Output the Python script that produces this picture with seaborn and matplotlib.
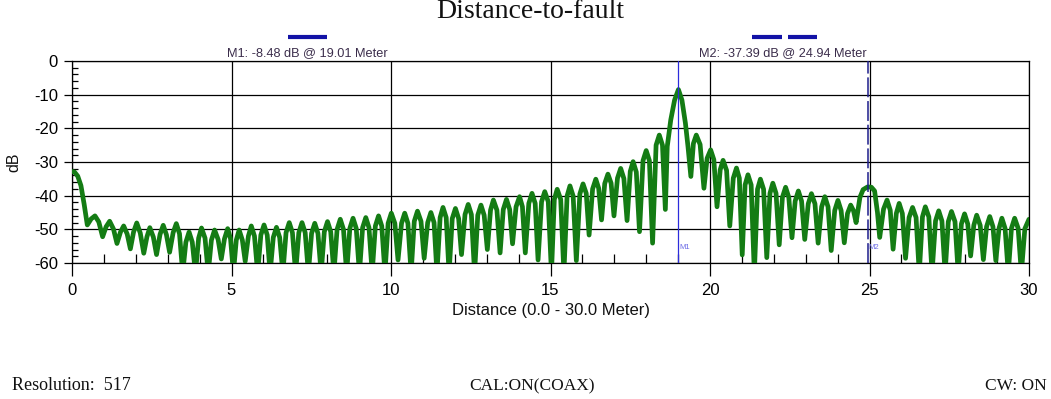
import matplotlib
matplotlib.use("Agg")
import matplotlib.pyplot as plt
from matplotlib.lines import Line2D
from matplotlib.ticker import MultipleLocator
import pandas as pd
import seaborn as sns

# ---------------- data ----------------
trace_m = [
    0.00, 0.08, 0.18, 0.28, 0.38,
    0.48, 0.60, 0.72, 0.84, 0.96, 1.07, 1.18, 1.30,
    1.41, 1.52, 1.62, 1.73, 1.83, 1.93, 2.03, 2.14,
    2.25, 2.35, 2.44, 2.55, 2.65, 2.76, 2.86, 2.96,
    3.06, 3.17, 3.27, 3.37, 3.47, 3.57, 3.67, 3.77,
    3.87, 3.97, 4.06, 4.17, 4.27, 4.37, 4.47, 4.58,
    4.68, 4.78, 4.88, 4.97, 5.06, 5.15, 5.24, 5.34,
    5.43, 5.53, 5.62, 5.72, 5.82, 5.92, 6.02, 6.12,
    6.21, 6.31, 6.41, 6.51, 6.61, 6.71, 6.81, 6.91,
    7.01, 7.11, 7.21, 7.31, 7.41, 7.51, 7.61, 7.71,
    7.81, 7.91, 8.01, 8.11, 8.21, 8.31, 8.41, 8.51,
    8.61, 8.71, 8.81, 8.91, 9.01, 9.11, 9.21, 9.31,
    9.41, 9.51, 9.61, 9.71, 9.81, 9.91, 10.01, 10.12,
    10.22, 10.33, 10.43, 10.53, 10.63, 10.73, 10.83, 10.94,
    11.04, 11.15, 11.25, 11.35, 11.44, 11.54, 11.63, 11.73,
    11.82, 11.92, 12.02, 12.12, 12.21, 12.32, 12.42, 12.52,
    12.62, 12.72, 12.82, 12.92, 13.02, 13.12, 13.21, 13.32,
    13.42, 13.52, 13.62, 13.72, 13.81, 13.92, 14.03, 14.12,
    14.21, 14.32, 14.42, 14.52, 14.61, 14.72, 14.82, 14.93,
    15.03, 15.12, 15.21, 15.32, 15.42, 15.52, 15.61, 15.71,
    15.81, 15.92, 16.02, 16.12, 16.21, 16.32, 16.42, 16.51,
    16.60, 16.70, 16.80, 16.90, 16.99, 17.10, 17.20, 17.30,
    17.40, 17.50, 17.59, 17.69, 17.79, 17.90, 18.00, 18.10,
    18.20, 18.31, 18.41, 18.51,
    18.60, 18.66, 18.77, 18.89, 19.01, 19.12, 19.23, 19.31,
    19.40, 19.48, 19.57, 19.69, 19.81, 19.91, 20.02, 20.12,
    20.22, 20.32, 20.41, 20.52, 20.62, 20.73, 20.83, 20.92,
    21.01, 21.10, 21.19, 21.29, 21.39, 21.49, 21.58, 21.68,
    21.78, 21.88, 21.97, 22.07, 22.17, 22.27, 22.37, 22.47,
    22.57, 22.67, 22.77, 22.87, 22.97, 23.08, 23.18, 23.29,
    23.39, 23.50, 23.60, 23.70, 23.80, 23.91, 24.01, 24.11,
    24.21, 24.31, 24.41, 24.50,
    24.58, 24.70, 24.80, 24.94, 25.06, 25.16, 25.25,
    25.32, 25.44, 25.55, 25.65, 25.74, 25.84, 25.93, 26.03,
    26.13, 26.24, 26.35, 26.46, 26.56, 26.66, 26.75, 26.86,
    26.96, 27.07, 27.17, 27.27, 27.37, 27.47, 27.57, 27.68,
    27.78, 27.88, 27.98, 28.08, 28.17, 28.27, 28.36, 28.47,
    28.57, 28.67, 28.77, 28.87, 28.96, 29.06, 29.15, 29.25,
    29.35, 29.45, 29.55, 29.66, 29.76, 29.87, 30.00,
]
trace_db = [
    -32.8, -33.0, -34.2, -37.0, -42.5,
    -48.7, -46.9, -46.0, -47.8, -52.2, -49.2, -47.6, -49.9,
    -54.2, -50.8, -49.0, -51.4, -55.8, -50.8, -48.1, -51.1,
    -57.1, -52.2, -49.5, -52.3, -57.5, -51.5, -48.8, -51.6,
    -56.8, -51.0, -48.3, -51.3, -63.0, -53.8, -50.8, -53.8,
    -63.0, -52.6, -49.6, -52.6, -63.0, -53.2, -50.2, -53.0,
    -58.8, -52.8, -49.8, -52.8, -63.0, -53.2, -50.2, -53.2,
    -59.5, -52.0, -49.0, -52.0, -63.0, -51.7, -48.7, -51.7,
    -63.0, -52.4, -49.4, -52.4, -63.0, -51.0, -48.0, -51.0,
    -63.0, -51.0, -48.0, -51.0, -63.0, -51.2, -48.2, -51.2,
    -63.0, -50.7, -47.7, -50.7, -63.0, -50.0, -47.0, -50.0,
    -63.0, -49.7, -46.7, -49.7, -63.0, -49.5, -46.5, -49.5,
    -63.0, -49.0, -46.0, -49.0, -63.0, -48.2, -45.2, -48.2,
    -59.1, -48.2, -45.2, -48.2, -63.0, -47.6, -44.6, -47.6,
    -58.6, -48.0, -45.0, -48.0, -63.0, -46.5, -43.5, -46.5,
    -63.0, -46.8, -43.8, -46.8, -57.5, -45.6, -42.6, -45.6,
    -63.0, -45.8, -42.8, -45.8, -56.0, -44.3, -41.3, -44.3,
    -57.0, -44.1, -41.1, -44.1, -54.3, -43.3, -40.3, -43.3,
    -57.0, -42.3, -39.3, -42.3, -59.1, -41.8, -38.8, -41.8,
    -63.0, -41.1, -38.1, -41.1, -63.0, -40.1, -37.1, -40.1,
    -59.3, -39.5, -36.5, -39.3, -51.7, -38.0, -35.1, -37.8,
    -47.2, -36.4, -33.6, -36.3, -46.0, -34.8, -31.9, -34.9,
    -47.4, -32.8, -29.9, -33.0, -50.7, -29.6, -26.6, -29.6,
    -54.1, -25.0, -22.0, -25.0,
    -44.1, -25.4, -17.5, -11.6, -8.48, -11.6, -18.5, -25.4,
    -34.3, -24.5, -22.0, -24.8, -37.8, -28.9, -26.4, -29.3,
    -43.3, -32.3, -29.5, -32.5, -49.0, -34.8, -31.8, -34.8,
    -57.6, -36.8, -33.8, -36.8, -63.0, -38.1, -35.1, -38.1,
    -58.4, -39.3, -36.3, -39.3, -54.6, -40.5, -37.5, -40.5,
    -52.5, -41.6, -38.6, -41.6, -53.0, -42.4, -39.4, -42.4,
    -54.1, -43.3, -40.3, -43.3, -56.3, -44.4, -41.4, -44.4,
    -54.0, -45.3, -42.8, -44.5,
    -48.0, -40.5, -38.2, -37.4, -37.5, -38.6, -45.0,
    -52.4, -44.0, -41.3, -44.3, -55.9, -45.3, -42.3, -45.3,
    -58.6, -46.5, -43.5, -46.5, -63.0, -46.3, -43.3, -46.3,
    -63.0, -47.5, -44.5, -47.5, -63.0, -47.7, -44.7, -47.7,
    -63.0, -48.4, -45.4, -48.4, -57.9, -48.8, -45.8, -48.8,
    -59.0, -49.2, -46.2, -49.2, -59.3, -49.7, -46.7, -49.7,
    -63.0, -49.7, -46.7, -49.7, -63.0, -49.8, -47.0,
]
assert len(trace_m) == len(trace_db)

marker_names = ["M1", "M2"]
marker_m = [19.01, 24.94]
marker_db = [-8.48, -37.39]

x_ticks = [0, 5, 10, 15, 20, 25, 30]
y_ticks = [0, -10, -20, -30, -40, -50, -60]

title_text = "Distance-to-fault"
x_label = "Distance (0.0 - 30.0 Meter)"
y_label = "dB"
footer_left = "Resolution:  517"
footer_mid = "CAL:ON(COAX)"
footer_right = "CW: ON"

# ---------------- style ----------------
sns.set_style("white")
plt.rcParams['font.family'] = ['Liberation Sans', 'DejaVu Sans']
SERIF = ['Liberation Serif', 'DejaVu Serif']

GREEN = '#147c14'
W, H = 1051, 399
fig = plt.figure(figsize=(W / 100, H / 100), dpi=100)
fig.patch.set_facecolor('white')
ax = fig.add_axes([72 / W, 1 - 263 / H, (1029 - 72) / W, (263 - 61) / H])

df = pd.DataFrame({"distance": trace_m, "db": trace_db})
sns.lineplot(data=df, x="distance", y="db", ax=ax, color=GREEN, linewidth=3.4,
             sort=False, estimator=None, zorder=3)

ax.set_xlim(0, 30)
ax.set_ylim(-60, 0)
ax.set_xticks(x_ticks)
ax.set_xticklabels([str(t) for t in x_ticks])
ax.set_yticks(y_ticks)
ax.set_yticklabels([str(t) for t in y_ticks])
ax.xaxis.set_minor_locator(MultipleLocator(1))
ax.yaxis.set_minor_locator(MultipleLocator(2))
ax.set_axisbelow(True)
ax.grid(True, which='major', color='black', linewidth=0.9)
ax.grid(False, which='minor')
ax.tick_params(axis='x', which='major', direction='out', length=9.5, width=0.9,
               labelsize=12, pad=5, colors='black', bottom=True, top=False)
ax.tick_params(axis='x', which='minor', direction='in', length=6.5, width=0.9,
               bottom=True, top=False, colors='black')
ax.tick_params(axis='y', which='major', direction='out', length=6, width=0.9,
               labelsize=12, pad=4, colors='black', left=True, right=False)
ax.tick_params(axis='y', which='minor', direction='in', length=4.5, width=0.9,
               left=True, right=False, colors='black')
for s in ax.spines.values():
    s.set_color('black')
    s.set_linewidth(0.9)
    s.set_visible(True)
ax.set_xlabel('')
ax.set_ylabel('')

# marker lines
ax.axvline(marker_m[0], color='#2c2cdc', linewidth=0.9, zorder=4)
ax.axvline(marker_m[1], color='#1c1c8c', linewidth=1.1, linestyle=(0, (13, 2.5)), zorder=4)
for name, m in zip(marker_names, marker_m):
    ax.text(m + 0.03, -55.3, name, fontsize=5.5, color='#6a6ae6', ha='left', va='center', zorder=5)

# header: marker readouts and their line-style bars
fig.text(307 / W, 1 - 53 / H,
         f"{marker_names[0]}: {marker_db[0]:.2f} dB @ {marker_m[0]:.2f} Meter",
         ha='center', va='center', fontsize=9.2, color='#3b2d4b')
fig.text(783 / W, 1 - 53 / H,
         f"{marker_names[1]}: {marker_db[1]:.2f} dB @ {marker_m[1]:.2f} Meter",
         ha='center', va='center', fontsize=9.2, color='#3b2d4b')
BAR = '#1212a6'
for x0, x1 in [(288, 327), (752, 782), (788, 817)]:
    fig.add_artist(Line2D([x0 / W, x1 / W], [1 - 37 / H, 1 - 37 / H], color=BAR,
                          linewidth=3.0, solid_capstyle='butt', transform=fig.transFigure))

# titles & labels
fig.text(530 / W, 1 - 12 / H, title_text, family=SERIF, fontsize=20,
         ha='center', va='center', color='#111111')
fig.text(551 / W, 1 - 310 / H, x_label, fontsize=12, ha='center', va='center', color='#111111')
fig.text(14 / W, 1 - 162 / H, y_label, fontsize=11.5, rotation=90,
         ha='center', va='center', color='#111111')

fig.text(12 / W, 1 - 386 / H, footer_left, family=SERIF, fontsize=13,
         ha='left', va='center', color='#111111')
fig.text(532 / W, 1 - 386 / H, footer_mid, family=SERIF, fontsize=12.5,
         ha='center', va='center', color='#111111')
fig.text(1047 / W, 1 - 386 / H, footer_right, family=SERIF, fontsize=12.5,
         ha='right', va='center', color='#111111')

fig.savefig('out.png', dpi=100, facecolor='white')
